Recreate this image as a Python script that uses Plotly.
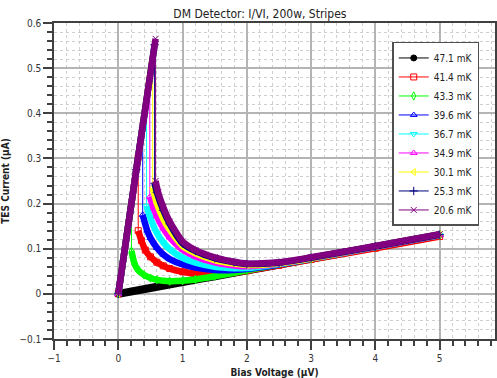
import plotly.graph_objects as go

# Bias voltage (uV) and TES current (uA) for each bath temperature.
v_471 = [0, 0.5, 1, 1.5, 2, 2.5, 3, 3.5, 4, 4.5, 5]
i_471 = [0, 0.013, 0.026, 0.039, 0.052, 0.065, 0.078, 0.091, 0.104, 0.117, 0.13]

v_414 = [0, 0.16, 0.31, 0.31, 0.36, 0.42, 0.5, 0.6, 0.7, 0.8, 1.0, 1.2, 1.5, 1.8, 2.0, 2.5, 3, 4, 5]
i_414 = [0, 0.157, 0.302, 0.14, 0.118, 0.097, 0.082, 0.07, 0.062, 0.056, 0.049, 0.045, 0.044, 0.047, 0.051, 0.063, 0.076, 0.101, 0.127]

v_433 = [0, 0.1, 0.205, 0.205, 0.25, 0.3, 0.4, 0.5, 0.6, 0.8, 1.0, 1.2, 1.5, 2, 3, 4, 5]
i_433 = [0, 0.1, 0.2, 0.095, 0.068, 0.054, 0.042, 0.035, 0.031, 0.028, 0.029, 0.032, 0.039, 0.052, 0.078, 0.104, 0.13]

v_396 = [0, 0.19, 0.38, 0.38, 0.45, 0.5, 0.6, 0.7, 0.8, 1.0, 1.2, 1.5, 1.8, 2.0, 2.5, 3, 4, 5]
i_396 = [0, 0.186, 0.372, 0.175, 0.14, 0.124, 0.102, 0.087, 0.077, 0.065, 0.058, 0.053, 0.053, 0.055, 0.065, 0.078, 0.104, 0.13]

v_367 = [0, 0.22, 0.44, 0.44, 0.5, 0.6, 0.7, 0.8, 1.0, 1.2, 1.5, 1.8, 2.0, 2.5, 3, 4, 5]
i_367 = [0, 0.216, 0.431, 0.195, 0.168, 0.135, 0.114, 0.099, 0.08, 0.069, 0.06, 0.057, 0.057, 0.066, 0.078, 0.104, 0.13]

v_349 = [0, 0.25, 0.49, 0.49, 0.55, 0.6, 0.7, 0.8, 1.0, 1.2, 1.5, 1.8, 2.0, 2.5, 3, 4, 5]
i_349 = [0, 0.245, 0.48, 0.215, 0.19, 0.172, 0.145, 0.125, 0.098, 0.083, 0.07, 0.063, 0.061, 0.067, 0.079, 0.104, 0.13]

v_301 = [0, 0.27, 0.535, 0.535, 0.6, 0.7, 0.8, 1.0, 1.2, 1.5, 1.8, 2.0, 2.5, 3, 4, 5]
i_301 = [0, 0.265, 0.525, 0.235, 0.2, 0.166, 0.142, 0.106, 0.09, 0.075, 0.067, 0.064, 0.068, 0.079, 0.105, 0.131]

v_253 = [0, 0.28, 0.565, 0.565, 0.6, 0.7, 0.8, 1.0, 1.2, 1.5, 1.8, 2.0, 2.5, 3, 4, 5]
i_253 = [0, 0.275, 0.552, 0.245, 0.225, 0.185, 0.155, 0.112, 0.095, 0.079, 0.07, 0.066, 0.069, 0.08, 0.105, 0.131]

v_206 = [0, 0.29, 0.58, 0.58, 0.62, 0.7, 0.8, 1.0, 1.2, 1.5, 1.8, 2.0, 2.5, 3, 4, 5]
i_206 = [0, 0.285, 0.565, 0.25, 0.225, 0.192, 0.16, 0.116, 0.097, 0.081, 0.071, 0.067, 0.07, 0.081, 0.106, 0.132]

labels = ["47.1 mK", "41.4 mK", "43.3 mK", "39.6 mK", "36.7 mK",
          "34.9 mK", "30.1 mK", "25.3 mK", "20.6 mK"]
volts = [v_471, v_414, v_433, v_396, v_367, v_349, v_301, v_253, v_206]
currents = [i_471, i_414, i_433, i_396, i_367, i_349, i_301, i_253, i_206]
colors = ["#000000", "#ff0000", "#00ff00", "#0000ff", "#00ffff",
          "#ff00ff", "#ffff00", "#000080", "#800080"]
symbols = ["circle", "square-open", "diamond-tall-open", "triangle-up-open",
           "triangle-down-open", "triangle-up-open", "triangle-left-open",
           "cross-thin", "x-thin"]

FONT = "DejaVu Sans Condensed, Liberation Sans, sans-serif"

fig = go.Figure()

for name, vx, iy, col, sym in zip(labels, volts, currents, colors, symbols):
    # Dense sweep branches drawn as a heavy band, broken at the jump.
    bx, by = [], []
    for k in range(len(vx)):
        if k > 0 and vx[k] == vx[k - 1]:
            bx.append(None)
            by.append(None)
        bx.append(vx[k])
        by.append(iy[k])
    fig.add_trace(go.Scatter(
        x=bx, y=by, mode="lines", showlegend=False, hoverinfo="skip",
        line=dict(color=col, width=8 if name == "47.1 mK" else 6.5,
                  shape="spline", smoothing=0.6),
        connectgaps=False, legendgroup=name,
    ))
    # Thin trace with markers, including the jump back to the superconducting branch.
    fig.add_trace(go.Scatter(
        x=vx, y=iy, mode="lines+markers", name=name, legendgroup=name,
        line=dict(color=col, width=1),
        marker=dict(symbol=sym, size=6, color=col,
                    line=dict(color=col, width=1)),
    ))

axis_common = dict(
    showline=True, linecolor="#404040", linewidth=1.5, mirror=True,
    ticks="outside", ticklen=9, tickcolor="#404040", tickwidth=1.5,
    showgrid=True, gridcolor="#b4b4b4", gridwidth=1.5,
    zeroline=False,
    tickfont=dict(family=FONT, size=10, color="#333333"),
    minor=dict(ticks="outside", ticklen=5, tickcolor="#404040", tickwidth=1.5,
               showgrid=True, gridcolor="#cfcfcf", gridwidth=1, griddash="dot"),
)

fig.update_xaxes(
    range=[-1, 5.86], dtick=1, tick0=0,
    title=dict(text="<b>Bias Voltage (μV)</b>", font=dict(family=FONT, size=10, color="#222222"), standoff=6),
    **axis_common,
)
fig.update_xaxes(minor_dtick=0.2)
fig.update_yaxes(
    range=[-0.1, 0.6], dtick=0.1, tick0=0,
    title=dict(text="<b>TES Current (μA)</b>", font=dict(family=FONT, size=10, color="#222222"), standoff=8),
    **axis_common,
)
fig.update_yaxes(minor_dtick=0.02)

fig.update_layout(
    width=497, height=378,
    margin=dict(l=54, r=0, t=23, b=39),
    paper_bgcolor="white", plot_bgcolor="white",
    title=dict(text="DM Detector: I/VI, 200w, Stripes", x=0.523, xanchor="center",
               y=0.975, yanchor="top",
               font=dict(family=FONT, size=12, color="#222222")),
    legend=dict(x=0.767, y=0.94, xanchor="left", yanchor="top",
                bgcolor="white", bordercolor="#505050", borderwidth=1.5,
                font=dict(family=FONT, size=10, color="#222222"),
                tracegroupgap=0, itemwidth=30),
    showlegend=True,
)

fig.write_html("out.html")
